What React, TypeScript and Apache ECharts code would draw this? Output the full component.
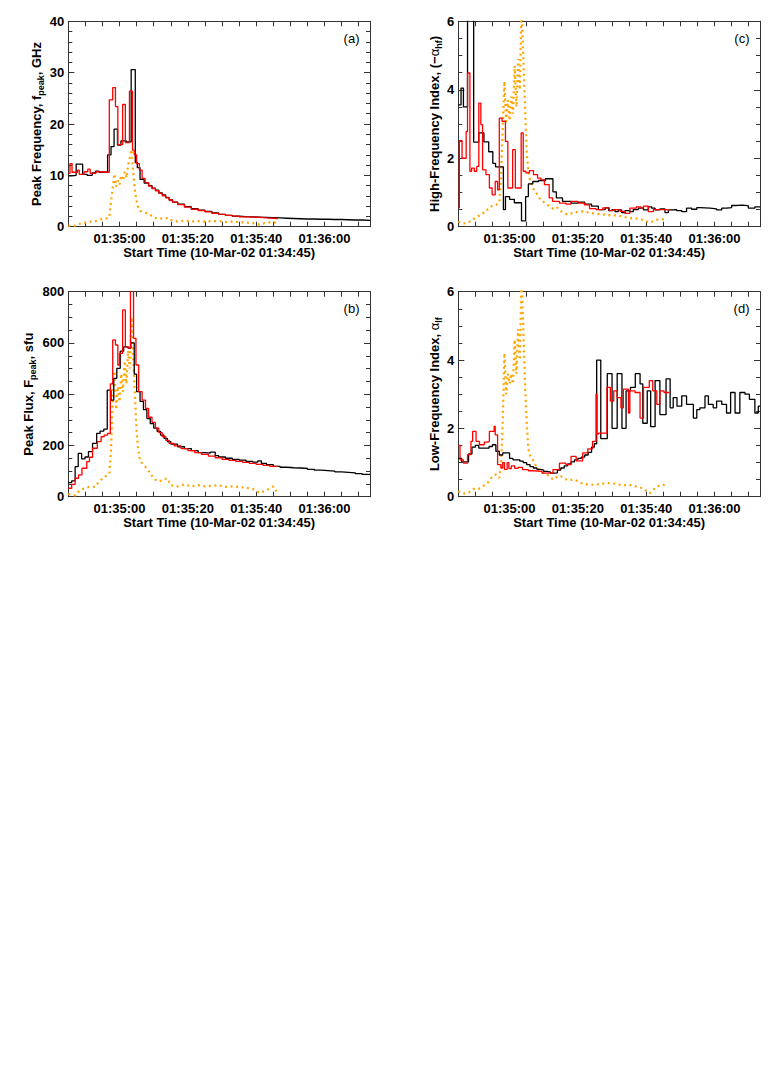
import React, { useEffect, useRef } from "react";
import * as echarts from "echarts";

// ---- time axis (seconds after 01:34:45) ----
const X_MAX = 88.3;
const X_TICK_LABELS: Record<number, string> = { 15: "01:35:00", 35: "01:35:20", 55: "01:35:40", 75: "01:36:00" };
const X_TITLE = "Start Time (10-Mar-02 01:34:45)";
const RED_END = 61.4;
const BLACK_END = X_MAX;

// ---- panel (a) peak frequency, GHz ----
const aBlack: [number, number][] = [[0,9.9],[1,10.0],[2.3,12.2],[4.2,10.2],[5.5,10.0],[7,10.5],[8,10.8],[9,10.6],[10,10.6],[11.5,14.0],[12.5,15.6],[13.4,19.0],[14.4,15.9],[15.4,16.7],[17,16.5],[18.4,30.6],[19.6,12.5],[20.2,11.5],[21,9.2],[22.2,8.5],[23.5,8.0],[24.5,7.5],[25.5,7.1],[26.5,6.6],[27.5,6.2],[28.5,5.7],[29.5,5.2],[30.5,4.8],[32,4.4],[34,3.9],[36,3.5],[38,3.2],[40,3.0],[42,2.7],[44,2.4],[46,2.2],[48,2.05],[50,1.95],[52,1.9],[54,1.85],[56,1.8],[58,1.75],[60,1.7],[62,1.65],[64,1.6],[66,1.55],[68,1.5],[70,1.5],[72,1.45],[74,1.45],[76,1.4],[78,1.4],[80,1.35],[82,1.3],[84,1.3],[86,1.25]];
const aRed: [number, number][] = [[0,10.4],[0.5,12.3],[1.1,10.6],[2.7,11.0],[3.2,10.2],[4.6,10.7],[5.7,11.2],[6.4,10.4],[8.1,10.7],[9.1,10.6],[12.0,24.7],[13.0,27.1],[13.8,23.4],[14.5,16.0],[15.9,23.8],[16.7,16.4],[17.9,26.4],[18.8,14.9],[19.3,14.0],[20.0,12.3],[20.8,11.0],[21.6,9.4],[22.5,8.6],[23.5,7.9],[24.5,7.4],[25.5,7.0],[26.5,6.5],[27.5,6.0],[28.5,5.6],[29.5,5.2],[30.5,4.8],[32,4.3],[34,3.8],[36,3.4],[38,3.15],[40,2.9],[42,2.6],[44,2.4],[46,2.2],[48,2.05],[50,1.9],[52,1.85],[54,1.8],[56,1.7],[58,1.65],[60,1.6]];
const aOrange: [number, number][] = [[0,0.2],[1,0.1],[2,0.2],[3,0.5],[4,0.7],[5,0.8],[6,1.0],[7,1.0],[8,1.1],[9,1.4],[10,1.5],[11,1.6],[12,1.8],[12.5,4.9],[13,7.5],[13.5,10.3],[14,7.8],[14.5,9.0],[15,8.2],[15.5,10.0],[16,9.0],[16.5,10.7],[17,9.5],[17.5,12.0],[18,13.5],[18.5,15.0],[19,10.5],[19.5,7.0],[20,5.0],[20.5,3.6],[21,3.1],[22,2.8],[23,2.6],[24,2.3],[25,1.8],[26,1.6],[27,1.6],[28,1.5],[29,1.7],[30,1.3],[32,1.0],[34,1.2],[36,1.0],[38,1.1],[40,1.0],[42,1.1],[44,1.1],[46,0.9],[48,1.0],[50,0.9],[52,0.8],[54,0.7],[56,0.4],[58,0.8],[60,0.9],[61,0.7]];

// ---- panel (b) peak flux, sfu ----
const bBlack: [number, number][] = [[0,55],[1,62],[2,117],[2.9,169],[3.9,148],[4.9,155],[5.9,176],[7.1,208],[8.3,247],[9.3,256],[10.4,264],[11.4,416],[12.5,377],[13.3,462],[14.2,501],[15.2,568],[16.2,585],[17.5,580],[18.3,600],[19.3,478],[20,410],[21,372],[22,340],[23,305],[24,285],[25,268],[26,255],[27,240],[28,228],[29,215],[30,205],[32,195],[34,188],[36,180],[38,172],[40,170],[41.5,174],[43,160],[44,155],[46,150],[48,146],[50,143],[52,138],[54,135],[55.5,140],[56.5,130],[58,125],[60,118],[62,115],[64,113],[66,112],[68,110],[70,107],[72,104],[74,102],[76,100],[78,97],[80,95],[82,93],[84,90],[86,87]];
const bRed: [number, number][] = [[0,33],[1,48],[2,72],[3,85],[4,111],[5.4,137],[6.2,154],[7.1,189],[8.5,215],[9.6,234],[10.5,240],[11.5,247],[12.3,440],[13.0,612],[13.8,592],[14.5,514],[15.0,559],[15.9,729],[16.7,585],[17.5,580],[18.2,900],[19.1,618],[19.8,514],[20.6,410],[21.6,377],[22.6,345],[23.5,310],[24.5,290],[25.5,268],[26.5,250],[27.5,235],[28.5,220],[29.5,208],[31,198],[33,188],[35,180],[37,172],[39,165],[41,158],[43,152],[45,146],[47,142],[49,138],[51,134],[53,130],[55,126],[57,122],[59,118]];
const bOrange: [number, number][] = [[0,10],[1,8],[2,5],[3,20],[4,30],[5,33],[6,38],[7,38],[8,40],[9,60],[10,70],[11,80],[12,90],[12.5,180],[13,380],[13.5,490],[14,340],[14.5,430],[15,370],[15.5,480],[16,410],[16.5,530],[17,440],[17.5,570],[18,500],[18.5,700],[19,540],[19.5,400],[20,250],[20.5,180],[21,140],[22,125],[23,110],[24,90],[25,72],[26,60],[27,62],[28,68],[29,72],[30,45],[32,40],[34,48],[36,40],[38,45],[40,40],[42,42],[44,45],[46,38],[48,40],[50,38],[52,35],[54,30],[56,15],[58,25],[60,40],[61,20]];

// ---- panel (c) high-frequency index ----
const cBlack: [number, number][] = [[0,3.56],[0.8,4.05],[1.5,3.5],[2.7,7],[4.5,2.47],[6.0,2.74],[7.5,2.48],[8.9,2.19],[10.1,1.85],[10.9,1.75],[13.2,0.5],[13.8,0.88],[15.0,0.8],[16.4,0.7],[18.5,0.17],[19.7,0.88],[20.5,1.25],[21.8,1.32],[23.5,1.35],[25.5,1.4],[27.7,1.02],[28.7,0.84],[30.5,0.74],[33,0.69],[35,0.72],[37,0.66],[39,0.6],[41,0.5],[43,0.55],[44,0.47],[45,0.5],[45.9,0.44],[46.8,0.49],[47.8,0.41],[48.8,0.47],[50.2,0.44],[51.2,0.5],[52.7,0.54],[54.2,0.49],[55.6,0.58],[56.6,0.54],[57.6,0.49],[59,0.52],[60.5,0.41],[61.5,0.49],[62.5,0.5],[63.9,0.47],[65.4,0.44],[66.8,0.54],[68.3,0.51],[69.8,0.56],[70.7,0.54],[73.7,0.52],[75.6,0.49],[77.1,0.54],[78.5,0.56],[80,0.62],[81.5,0.63],[83.4,0.61],[84.9,0.54],[86.8,0.58]];
const cRed: [number, number][] = [[0,0.55],[0.3,2.51],[1.1,2.0],[2.3,2.78],[2.7,4.49],[3.4,1.62],[3.9,1.71],[4.7,1.62],[5.4,1.76],[6.0,3.61],[6.6,2.98],[7.1,1.66],[8.1,1.52],[9.1,1.13],[9.9,0.93],[10.8,1.32],[11.5,1.08],[12.0,3.17],[12.8,3.08],[13.8,2.49],[14.5,1.13],[15.9,2.25],[16.7,1.13],[18.4,2.74],[19.0,1.62],[19.8,1.57],[20.8,1.64],[22.0,1.52],[23.2,1.42],[24.2,1.37],[25.2,1.23],[26.6,0.84],[27.6,0.74],[29.6,0.69],[31.5,0.66],[33.0,0.74],[35.0,0.69],[36.9,0.64],[38.4,0.53],[40.3,0.5],[42.3,0.55],[44.2,0.47],[45.4,0.5],[47.3,0.45],[48.8,0.39],[50.2,0.54],[52.1,0.58],[53.5,0.54],[54.2,0.6],[55.6,0.44],[57.1,0.5],[59,0.5],[61,0.48]];
const cOrange: [number, number][] = [[0,0.15],[1,0.1],[2,0.1],[3,0.12],[4,0.2],[5,0.25],[6,0.32],[7,0.36],[8,0.48],[9,0.52],[10,0.62],[11,0.64],[12,0.7],[12.5,1.4],[13,2.9],[13.5,4.25],[14,3.0],[14.5,3.7],[15,3.1],[15.5,3.8],[16,3.3],[16.5,4.7],[17,3.5],[17.5,4.9],[18,4.0],[18.5,6.5],[19,5.0],[19.5,3.6],[20,2.2],[20.5,1.6],[21,1.35],[22,1.1],[23,0.95],[24,0.8],[25,0.72],[26,0.65],[27,0.58],[28,0.5],[29,0.55],[30,0.45],[32,0.35],[34,0.42],[36,0.45],[38,0.42],[40,0.38],[42,0.36],[44,0.34],[46,0.33],[48,0.3],[50,0.25],[52,0.24],[54,0.2],[56,0.12],[58,0.2],[60,0.22],[61,0.27]];

// ---- panel (d) low-frequency index ----
const dBlack: [number, number][] = [[0,1.12],[1,1.02],[3,1.25],[4,1.45],[5,1.5],[6,1.42],[9,1.47],[10,1.52],[11,1.33],[12,1.22],[13,1.28],[15,1.12],[16,1.08],[18,1.04],[19,1.0],[20,0.94],[21,0.88],[22,0.84],[23,0.8],[24,0.78],[25,0.74],[26,0.72],[27,0.69],[28,0.7],[29,0.78],[30,0.84],[31,0.9],[32,0.96],[33,1.02],[34,1.08],[35,1.12],[36,1.16],[37,1.22],[38,1.3],[39,1.45],[39.8,1.55],[40.5,4.0],[41.7,1.7],[43.6,3.6],[45.0,2.0],[46.5,3.6],[47.9,2.0],[49.1,3.1],[50.4,3.2],[51.8,3.6],[53.2,3.3],[54.0,2.15],[55.3,3.1],[56.3,2.05],[57.6,3.4],[59.0,2.4],[60.8,3.45],[62.0,2.6],[62.9,2.9],[64.0,2.65],[65.4,2.95],[66.8,2.7],[68.8,2.3],[69.8,2.55],[70.7,2.6],[72.2,2.95],[73.2,2.7],[74.6,2.6],[75.6,2.8],[77.1,2.7],[78.5,2.45],[79.7,3.05],[81.0,2.45],[82.4,3.05],[83.9,3.0],[85.2,2.85],[86.8,2.45],[87.8,2.65]];
const dRed: [number, number][] = [[0,1.5],[0.5,1.08],[1.5,0.98],[2.7,1.23],[3.7,1.62],[4.2,1.91],[5.2,1.62],[6.2,1.52],[7.6,1.6],[8.6,1.62],[9.1,1.91],[10.5,2.06],[10.8,1.81],[11.5,0.94],[12.5,0.84],[13.0,1.0],[13.5,0.8],[14.3,1.0],[14.8,0.82],[15.5,0.9],[16.5,0.83],[17.5,0.86],[18.8,0.79],[20.5,0.76],[22,0.74],[24.5,0.69],[27.7,0.79],[29.6,0.98],[31.5,0.94],[33,1.18],[34.5,1.05],[36.4,1.28],[37.9,1.4],[39.3,1.62],[40.3,3.0],[40.6,1.83],[41.0,1.86],[43.5,3.2],[44.5,2.8],[45.5,3.1],[46.5,2.9],[47.6,2.6],[48.3,3.15],[49.8,2.45],[50.2,3.1],[51.7,3.05],[53.2,2.3],[54.2,3.2],[55.9,3.4],[56.9,3.1],[58.1,2.7],[59.0,3.1],[60.2,3.05]];
const dOrange: [number, number][] = [[0,0.16],[1,0.1],[2,0.1],[3,0.12],[4,0.2],[5,0.25],[6,0.23],[7,0.3],[8,0.35],[9,0.45],[10,0.6],[11,0.65],[12,0.55],[12.5,0.9],[13,2.2],[13.5,4.2],[14,3.0],[14.5,3.6],[15,3.3],[15.5,3.6],[16,3.3],[16.5,4.6],[17,3.6],[17.5,4.9],[18,4.0],[18.5,6.5],[19,5.0],[19.5,3.4],[20,2.2],[20.5,1.4],[21,1.2],[22,1.05],[23,0.85],[24,0.75],[25,0.7],[26,0.65],[27,0.55],[28,0.5],[29,0.6],[30,0.6],[32,0.48],[34,0.5],[36,0.4],[38,0.35],[40,0.35],[42,0.38],[44,0.4],[46,0.38],[48,0.33],[50,0.35],[52,0.3],[54,0.25],[56,0.1],[58,0.3],[60,0.35],[61,0.3]];

const FONT = "'Liberation Sans', Arial, Helvetica, sans-serif";
const AXIS_COLOR = "#333";

function withEnd(pts: [number, number][], end: number): [number, number][] {
  return [...pts, [end, pts[pts.length - 1][1]]];
}

const PANELS = [
  { label: "(a)", grid: { left: 68.3, top: 21.3, width: 301.7, height: 205.4 }, yMax: 40, yInt: 10, ySplit: 5, gap: 23,
    name: "{t|Peak Frequency, f}{s|peak}{t|, GHz}", black: aBlack, red: aRed, orange: aOrange, redEnd: RED_END },
  { label: "(b)", grid: { left: 68.3, top: 291.7, width: 301.7, height: 205 }, yMax: 800, yInt: 200, ySplit: 4, gap: 31,
    name: "{t|Peak Flux, F}{s|peak}{t|, sfu}", black: bBlack, red: bRed, orange: bOrange, redEnd: RED_END },
  { label: "(c)", grid: { left: 458.3, top: 21.3, width: 301.7, height: 205.4 }, yMax: 6, yInt: 2, ySplit: 4, gap: 15,
    name: "{t|High-Frequency Index, (\u2212}{g|\u03b1}{s|hf}{t|)}", black: cBlack, red: cRed, orange: cOrange, redEnd: 61.8 },
  { label: "(d)", grid: { left: 458.3, top: 291.7, width: 301.7, height: 205 }, yMax: 6, yInt: 2, ySplit: 4, gap: 15,
    name: "{t|Low-Frequency Index, }{g|\u03b1}{s|lf}", black: dBlack, red: dRed, orange: dOrange, redEnd: 61.8 },
];

function buildOption() {
  const grid: any[] = [];
  const xAxis: any[] = [];
  const yAxis: any[] = [];
  const series: any[] = [];
  const graphic: any[] = [];
  const lineStyle = { color: AXIS_COLOR, width: 1 };

  PANELS.forEach((p, i) => {
    grid.push({ ...p.grid, containLabel: false });
    const xBase = {
      gridIndex: i, type: "value", min: 0, max: X_MAX, interval: 5,
      axisLine: { show: true, onZero: false, lineStyle },
      axisTick: { show: true, inside: true, length: 5, lineStyle },
      splitLine: { show: false },
    };
    xAxis.push({
      ...xBase, position: "bottom",
      axisLabel: {
        show: true, margin: 5, color: "#000", fontFamily: FONT, fontSize: 13, fontWeight: "bold",
        formatter: (v: number) => X_TICK_LABELS[Math.round(v * 1000) / 1000] ?? "",
      },
      name: X_TITLE, nameLocation: "middle", nameGap: 16,
      nameTextStyle: { color: "#000", fontFamily: FONT, fontSize: 13, fontWeight: "bold", verticalAlign: "top" },
    });
    xAxis.push({ ...xBase, position: "top", axisLabel: { show: false } });

    const yBase = {
      gridIndex: i, type: "value", min: 0, max: p.yMax, interval: p.yInt,
      axisLine: { show: true, onZero: false, lineStyle },
      axisTick: { show: true, inside: true, length: 6, lineStyle },
      minorTick: { show: true, splitNumber: p.ySplit, length: 4, lineStyle },
      splitLine: { show: false },
      minorSplitLine: { show: false },
    };
    yAxis.push({
      ...yBase, position: "left",
      axisLabel: { show: true, margin: 4, color: "#000", fontFamily: FONT, fontSize: 13, fontWeight: "bold" },
      name: p.name, nameLocation: "middle", nameRotate: 90, nameGap: p.gap,
      nameTextStyle: {
        color: "#000", fontFamily: FONT,
        rich: {
          t: { fontFamily: FONT, fontSize: 13, fontWeight: "bold", lineHeight: 18, color: "#000" },
          g: { fontFamily: FONT, fontSize: 13, fontWeight: "normal", lineHeight: 18, color: "#000" },
          s: { fontFamily: FONT, fontSize: 9, fontWeight: "bold", verticalAlign: "bottom", color: "#000" },
        },
      },
    });
    yAxis.push({ ...yBase, position: "right", axisLabel: { show: false } });

    const xi = i * 2;
    series.push({
      type: "line", xAxisIndex: xi, yAxisIndex: xi, data: p.orange, symbol: "none", smooth: false,
      lineStyle: { color: "#FFA500", width: 2.2, type: [2, 3.5], cap: "butt" }, z: 2, silent: true,
    });
    series.push({
      type: "line", xAxisIndex: xi, yAxisIndex: xi, data: withEnd(p.black, BLACK_END), step: "end", symbol: "none",
      lineStyle: { color: "#000", width: 1.3 }, z: 3, silent: true,
    });
    series.push({
      type: "line", xAxisIndex: xi, yAxisIndex: xi, data: withEnd(p.red, p.redEnd), step: "end", symbol: "none",
      lineStyle: { color: "#FF0000", width: 1.3 }, z: 4, silent: true,
    });

    graphic.push({
      type: "text", x: p.grid.left + p.grid.width - 10.5, y: p.grid.top + 10.5,
      style: { text: p.label, fill: "#000", font: `13px ${FONT}`, align: "right", verticalAlign: "top",
        textAlign: "right", textVerticalAlign: "top" },
    });
  });

  return { animation: false, backgroundColor: "#fff", grid, xAxis, yAxis, series, graphic };
}

export default function App() {
  const ref = useRef<HTMLDivElement>(null);
  useEffect(() => {
    if (!ref.current) return;
    const chart = echarts.init(ref.current, undefined, { renderer: "svg" });
    chart.setOption(buildOption() as any);
    return () => chart.dispose();
  }, []);
  return <div ref={ref} style={{ position: "absolute", left: 0, top: 0, width: 781, height: 1081, background: "#fff" }} />;
}
